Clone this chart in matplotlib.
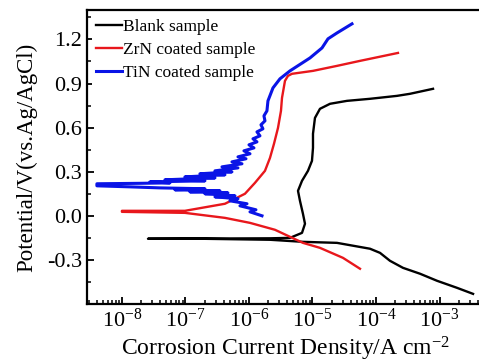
import numpy as np
import matplotlib as mpl
mpl.use('Agg')
import matplotlib.pyplot as plt
from matplotlib.ticker import MultipleLocator, FixedLocator, LogFormatterSciNotation

# potentiodynamic polarization curves, log10(i / A cm^-2) vs potential (V vs Ag/AgCl)
blank_logi = [-2.472, -2.724, -3.039, -3.307, -3.575, -3.780, -3.937, -4.094, -4.614,
              -5.150, -5.669, -6.772, -7.559,
              -7.590, -5.669, -5.354, -5.165, -5.118, -5.150, -5.197, -5.228, -5.165,
              -5.071, -5.008, -4.992, -4.992, -4.961, -4.882, -4.724, -4.457, -4.094,
              -3.669, -3.465, -3.102]
blank_E = [-0.531, -0.490, -0.442, -0.394, -0.354, -0.306, -0.252, -0.224, -0.184,
           -0.177, -0.163, -0.156, -0.156,
           -0.156, -0.153, -0.150, -0.116, -0.054, 0.014, 0.102, 0.170, 0.238,
           0.306, 0.374, 0.462, 0.558, 0.666, 0.728, 0.762, 0.782, 0.796,
           0.816, 0.830, 0.864]

zrn_logi = [-4.252, -4.520, -4.882, -5.150, -5.591, -5.984, -6.378, -7.008, -7.559, -8.000,
            -8.000, -7.008, -6.378, -6.063, -5.906, -5.748, -5.669, -5.606, -5.543, -5.496,
            -5.480, -5.433, -5.386, -5.323, -4.992, -4.614, -4.252, -3.654]
zrn_E = [-0.360, -0.286, -0.218, -0.184, -0.095, -0.048, -0.014, 0.020, 0.024, 0.027,
         0.034, 0.034, 0.082, 0.150, 0.224, 0.306, 0.394, 0.490, 0.598, 0.714,
         0.802, 0.918, 0.952, 0.966, 0.986, 1.020, 1.054, 1.108]

# TiN curve is very noisy between 0.0 and 0.6 V, strands listed point by point
tin_logi = [-5.795, -5.984, -5.890, -6.142, -6.031, -6.299, -6.173, -6.535, -6.220, -6.693,
            -6.331, -6.929, -6.457, -7.165, -6.693, -7.402, -7.874, -8.394,
            -8.394, -7.717, -7.244, -7.559, -6.693, -7.323, -6.535, -7.008, -6.378, -6.772,
            -6.268, -6.535, -6.173, -6.425, -6.110, -6.268, -6.047, -6.173, -5.984, -6.079,
            -5.921, -6.000, -5.874, -5.937, -5.827, -5.874, -5.780, -5.811, -5.748, -5.764,
            -5.717, -5.701, -5.622, -5.512, -5.354, -5.039, -4.850, -4.756, -4.614, -4.378]
tin_E = [0.000, 0.027, 0.041, 0.068, 0.082, 0.102, 0.116, 0.129, 0.136, 0.150,
         0.156, 0.163, 0.170, 0.177, 0.184, 0.190, 0.197, 0.204,
         0.218, 0.221, 0.224, 0.231, 0.238, 0.245, 0.258, 0.265, 0.279, 0.286,
         0.299, 0.306, 0.326, 0.333, 0.354, 0.367, 0.388, 0.401, 0.422, 0.442,
         0.462, 0.483, 0.503, 0.524, 0.544, 0.571, 0.592, 0.619, 0.646, 0.680,
         0.714, 0.782, 0.870, 0.932, 0.986, 1.074, 1.142, 1.204, 1.244, 1.306]

labels = ['Blank sample', 'ZrN coated sample', 'TiN coated sample']
colors = ['black', '#e8171c', '#0a14e6']
widths = [1.7, 1.7, 2.2]
xdecades = [-8, -7, -6, -5, -4, -3]
yticks = [-0.3, 0.0, 0.3, 0.6, 0.9, 1.2]

plt.rc('font', family='Liberation Serif')
plt.rcParams['mathtext.fontset'] = 'custom'
plt.rcParams['mathtext.rm'] = 'Liberation Serif'
plt.rcParams['mathtext.default'] = 'regular'
plt.rcParams['axes.unicode_minus'] = False

fig = plt.figure(figsize=(4.79, 3.64), dpi=100)
a = fig.add_axes([0.1816, 0.1648, 0.8288, 0.8077])

series = [(blank_logi, blank_E), (zrn_logi, zrn_E), (tin_logi, tin_E)]
for (li, E), lab, c, w in zip(series, labels, colors, widths):
    a.plot(10 ** np.array(li), E, '-', color=c, linewidth=w, label=lab)

xmin, xmax = 10 ** -8.55, 10 ** -2.30
a.set_xscale('log')
a.set_xlim(xmin, xmax)
a.set_ylim(-0.6, 1.4)
minors = [m * 10.0 ** d for d in range(-9, -2) for m in range(2, 10)]
minors = [m for m in minors if xmin <= m <= xmax]
a.xaxis.set_major_locator(FixedLocator([10.0 ** d for d in xdecades]))
a.xaxis.set_major_formatter(LogFormatterSciNotation())
a.xaxis.set_minor_locator(FixedLocator(minors))
a.yaxis.set_major_locator(FixedLocator(yticks))
a.yaxis.set_minor_locator(MultipleLocator(0.15))
a.set_yticklabels(['%.1f' % t for t in yticks])

a.tick_params(axis='both', which='major', direction='in', length=5, width=1.3, labelsize=16)
a.tick_params(axis='both', which='minor', direction='in', length=3, width=1.1)
for s in a.spines.values():
    s.set_linewidth(1.6)

a.set_xlabel('Corrosion Current Density/A cm$^{-2}$', fontsize=17, labelpad=2)
a.set_ylabel('Potential/V(vs.Ag/AgCl)', fontsize=16.5)
a.yaxis.set_label_coords(-0.125, 0.5)

leg = a.legend(loc='upper left', fontsize=12.5, frameon=True, fancybox=False,
               handlelength=1.5, handletextpad=0.1, labelspacing=0.4,
               borderpad=0.2, borderaxespad=0.3)
leg.get_frame().set_edgecolor('none')
leg.get_frame().set_facecolor('white')
leg.get_frame().set_alpha(1.0)

fig.savefig('out.png', dpi=100)
